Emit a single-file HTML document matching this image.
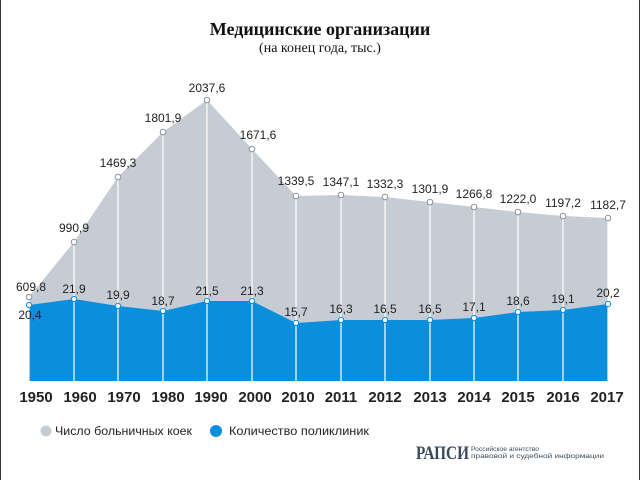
<!DOCTYPE html>
<html><head><meta charset="utf-8"><style>
body{margin:0;background:#fff;}
svg{display:block;font-family:"Liberation Sans","Noto Sans CJK SC",sans-serif;}
</style></head><body>
<svg width="640" height="480" viewBox="0 0 640 480">
<rect x="0" y="0" width="640" height="480" fill="#fff"/>
<line x1="0.5" y1="0" x2="0.5" y2="480" stroke="#333" stroke-width="1"/>
<line x1="639.5" y1="0" x2="639.5" y2="480" stroke="#333" stroke-width="1"/>
<text x="320" y="35" text-anchor="middle" font-family="Liberation Serif,serif" font-weight="bold" font-size="18" fill="#111">Медицинские организации</text>
<text x="320" y="52" text-anchor="middle" font-family="Liberation Serif,serif" font-size="14" fill="#111">(на конец года, тыс.)</text>
<polygon fill="#c6ccd4" points="29,381 29,297 74,242 118,177 163,132 207,100 252,149 296,196 341,195 385,197 430,202 474,207 518,212 563,216 608,218 608,381"/>
<polygon fill="#0b8fdc" points="29,381 29,305 74,299 118,306 163,311 207,301 252,301 296,323 341,320 385,320 430,320 474,318 518,312 563,310 608,304 608,381"/>
<g stroke="#fff" stroke-width="1.2">
<line x1="29" y1="297" x2="29" y2="381"/><line x1="74" y1="242" x2="74" y2="381"/><line x1="118" y1="177" x2="118" y2="381"/><line x1="163" y1="132" x2="163" y2="381"/><line x1="207" y1="100" x2="207" y2="381"/><line x1="252" y1="149" x2="252" y2="381"/><line x1="296" y1="196" x2="296" y2="381"/><line x1="341" y1="195" x2="341" y2="381"/><line x1="385" y1="197" x2="385" y2="381"/><line x1="430" y1="202" x2="430" y2="381"/><line x1="474" y1="207" x2="474" y2="381"/><line x1="518" y1="212" x2="518" y2="381"/><line x1="563" y1="216" x2="563" y2="381"/><line x1="608" y1="218" x2="608" y2="381"/>
</g>
<g fill="#fff" stroke="#8a929c" stroke-width="1">
<circle cx="29" cy="297" r="2.8"/><circle cx="74" cy="242" r="2.8"/><circle cx="118" cy="177" r="2.8"/><circle cx="163" cy="132" r="2.8"/><circle cx="207" cy="100" r="2.8"/><circle cx="252" cy="149" r="2.8"/><circle cx="296" cy="196" r="2.8"/><circle cx="341" cy="195" r="2.8"/><circle cx="385" cy="197" r="2.8"/><circle cx="430" cy="202" r="2.8"/><circle cx="474" cy="207" r="2.8"/><circle cx="518" cy="212" r="2.8"/><circle cx="563" cy="216" r="2.8"/><circle cx="608" cy="218" r="2.8"/>
</g>
<g fill="#fff" stroke="#0b8fdc" stroke-width="1">
<circle cx="29" cy="305" r="2.6"/><circle cx="74" cy="299" r="2.6"/><circle cx="118" cy="306" r="2.6"/><circle cx="163" cy="311" r="2.6"/><circle cx="207" cy="301" r="2.6"/><circle cx="252" cy="301" r="2.6"/><circle cx="296" cy="323" r="2.6"/><circle cx="341" cy="320" r="2.6"/><circle cx="385" cy="320" r="2.6"/><circle cx="430" cy="320" r="2.6"/><circle cx="474" cy="318" r="2.6"/><circle cx="518" cy="312" r="2.6"/><circle cx="563" cy="310" r="2.6"/><circle cx="608" cy="304" r="2.6"/>
</g>
<g font-size="12" fill="#222" text-anchor="middle">
<text x="31" y="291">609,8</text><text x="74" y="232">990,9</text><text x="118" y="167">1469,3</text><text x="163" y="122">1801,9</text><text x="207" y="92">2037,6</text><text x="258" y="139">1671,6</text><text x="296" y="185">1339,5</text><text x="341" y="186">1347,1</text><text x="385" y="188">1332,3</text><text x="430" y="193">1301,9</text><text x="474" y="198">1266,8</text><text x="518" y="203">1222,0</text><text x="563" y="207">1197,2</text><text x="608" y="209">1182,7</text>
<text x="30" y="319">20,4</text><text x="74" y="293">21,9</text><text x="118" y="299">19,9</text><text x="163" y="305">18,7</text><text x="207" y="295">21,5</text><text x="252" y="295">21,3</text><text x="296" y="316">15,7</text><text x="341" y="313">16,3</text><text x="385" y="313">16,5</text><text x="430" y="313">16,5</text><text x="474" y="311">17,1</text><text x="518" y="305">18,6</text><text x="563" y="303">19,1</text><text x="608" y="297">20,2</text>
</g>
<g font-size="15" font-weight="bold" fill="#222" text-anchor="middle">
<text x="36" y="402">1950</text><text x="80" y="402">1960</text><text x="124" y="402">1970</text><text x="168" y="402">1980</text><text x="211" y="402">1990</text><text x="255" y="402">2000</text><text x="298" y="402">2010</text><text x="341" y="402">2011</text><text x="385" y="402">2012</text><text x="430" y="402">2013</text><text x="474" y="402">2014</text><text x="518" y="402">2015</text><text x="563" y="402">2016</text><text x="607" y="402">2017</text>
</g>
<circle cx="46" cy="431" r="5.5" fill="#c6ccd4"/>
<text x="55" y="435" font-size="12" fill="#222" textLength="137" lengthAdjust="spacingAndGlyphs">Число больничных коек</text>
<circle cx="216" cy="431" r="6" fill="#0b8fdc"/>
<text x="229" y="435" font-size="12" fill="#222" textLength="140" lengthAdjust="spacingAndGlyphs">Количество  поликлиник</text>
<text x="416" y="459" font-family="Liberation Serif,serif" font-weight="bold" font-size="19" fill="#3a4a5c" textLength="53" lengthAdjust="spacingAndGlyphs">РАПСИ</text>
<text x="471" y="451" font-size="6.5" fill="#3a4a5c" textLength="68" lengthAdjust="spacingAndGlyphs">Российское агентство</text>
<text x="471" y="458" font-size="6.5" fill="#3a4a5c" textLength="133" lengthAdjust="spacingAndGlyphs">правовой и судебной информации</text>
</svg>
</body></html>
